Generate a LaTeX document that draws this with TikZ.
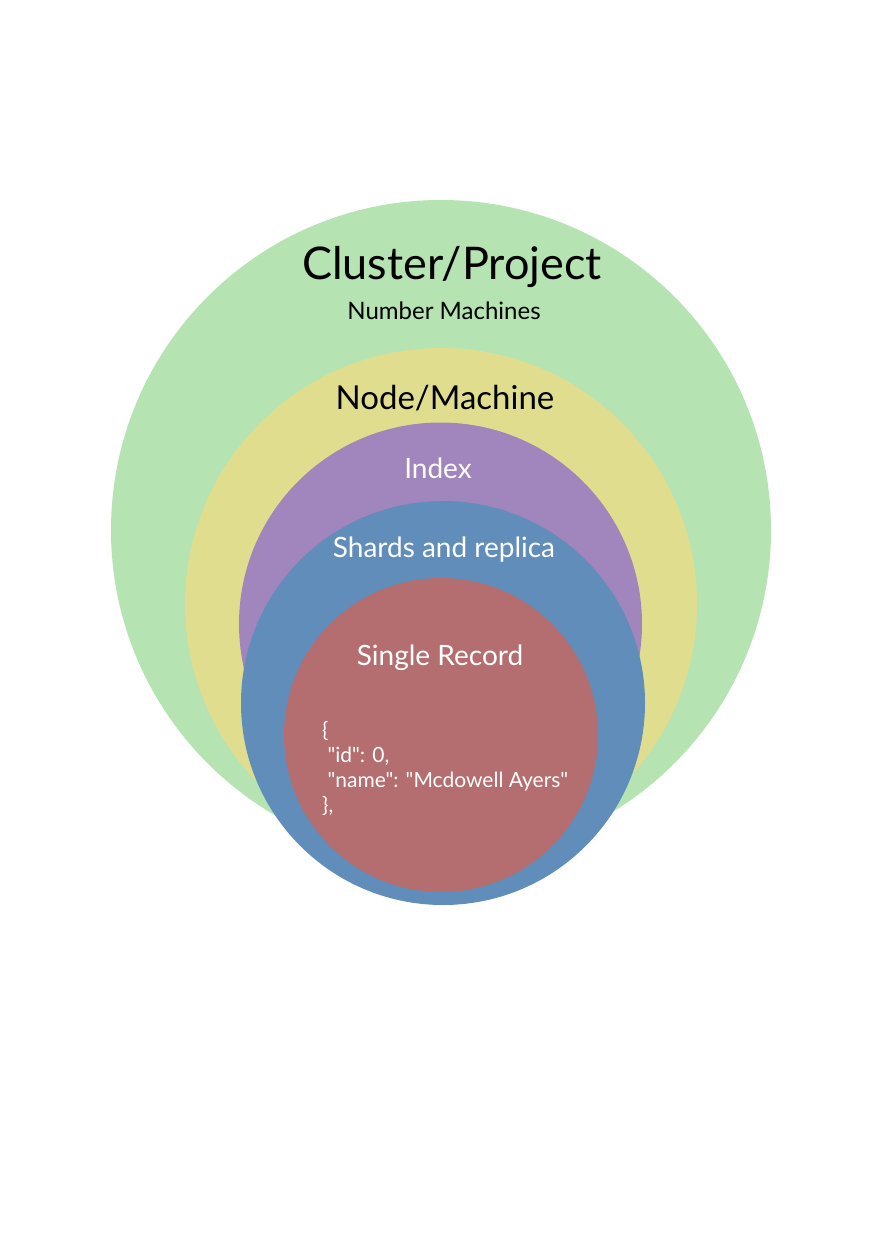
\documentclass[tikz,border=0pt]{standalone}
\usepackage{fontspec}
\setmainfont{Lato}
\newfontfamily\jsonfont{Lato}[Ligatures=TeXOff]
\definecolor{clustergreen}{RGB}{181,227,178}
\definecolor{nodeyellow}{RGB}{224,222,142}
\definecolor{indexpurple}{RGB}{161,133,189}
\definecolor{shardblue}{RGB}{96,141,186}
\definecolor{recordred}{RGB}{180,110,112}
\tikzset{
    lbl/.style={inner sep=0pt, anchor=center},
    whitelbl/.style={lbl, text=white, font=\fontsize{28}{32}\selectfont},
    jsonline/.style={inner sep=0pt, anchor=base west, text=white, font=\jsonfont\fontsize{21}{25}\selectfont}
}
\begin{document}
\begin{tikzpicture}[x=1pt, y=-1pt]
    \useasboundingbox[fill=white] (0,0) rectangle (881,1247);

    % nested circles
    \fill[clustergreen] (441,530) circle (330);
    \fill[nodeyellow] (441,604) circle (256);
    \fill[indexpurple] (440.5,624) circle (201.5);
    \fill[shardblue] (443,703) circle (202);
    \fill[recordred] (441,735) circle (157);

    % labels
    \node[lbl, font=\fontsize{45}{52}\selectfont] (cluster) at (452,267) {Cluster/Project};
    \node[lbl, font=\fontsize{24}{28}\selectfont] (machines) at (444,311) {Number Machines};
    \node[lbl, font=\fontsize{33}{38}\selectfont] (nodem) at (445,398) {Node/Machine};
    \node[whitelbl] (index) at (438,468) {Index};
    \node[whitelbl] (shards) at (444,550) {Shards and replica};
    \node[whitelbl] (single) at (440,658) {Single Record};

    % record body
    \node[jsonline] (json1) at (322,737) {\{};
    \node[jsonline] (json2) at (322,762) {\ "id": 0,};
    \node[jsonline] (json3) at (322,787) {\ "name": "Mcdowell Ayers"};
    \node[jsonline] (json4) at (322,812) {\},};
\end{tikzpicture}
\end{document}
